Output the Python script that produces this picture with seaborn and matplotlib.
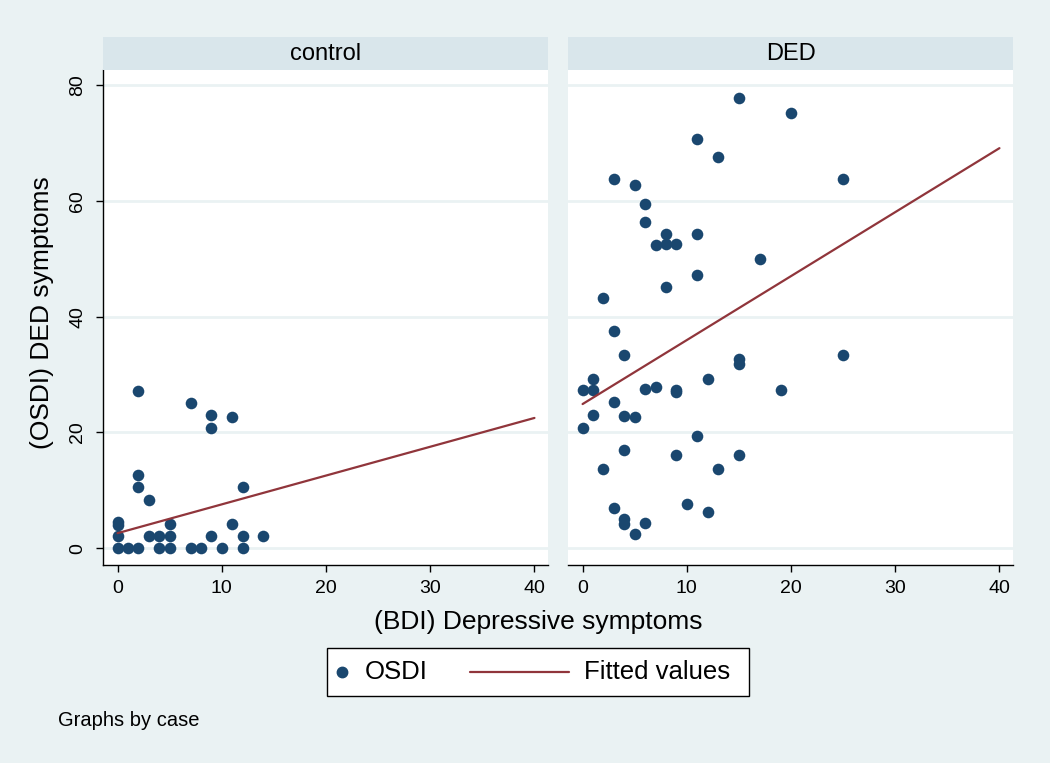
import numpy as np
import pandas as pd
import seaborn as sns
import matplotlib.pyplot as plt
from matplotlib.lines import Line2D
from matplotlib.patches import Rectangle

# values
control_bdi = [2, 7, 9, 9, 11, 2, 2, 3, 12, 0, 0, 5, 11,
               0, 3, 4, 5, 9, 12, 14,
               0, 1, 2, 4, 5, 7, 8, 10, 12]
control_osdi = [27.2, 25.1, 23.0, 20.8, 22.6, 12.6, 10.5, 8.4, 10.5, 4.6, 4.0, 4.2, 4.2,
                2.1, 2.1, 2.1, 2.1, 2.1, 2.1, 2.1,
                0, 0, 0, 0, 0, 0, 0, 0, 0]

ded_bdi = [15, 20, 11, 13, 3, 25, 5, 6, 6, 8, 11, 7, 8, 9, 17, 11, 8, 2, 3, 4,
           25, 15, 15, 1, 12, 0, 1, 6, 7, 9, 9, 19, 3, 1, 4, 5, 0, 11, 4, 9,
           15, 2, 13, 10, 3, 12, 4, 4, 6, 5]
ded_osdi = [77.8, 75.2, 70.6, 67.6, 63.8, 63.8, 62.7, 59.4, 56.4, 54.3, 54.3, 52.4, 52.6, 52.6,
            50.0, 47.2, 45.2, 43.3, 37.6, 33.4, 33.3, 32.6, 31.8, 29.3, 29.3, 27.3, 27.4, 27.5,
            27.9, 27.4, 27.0, 27.4, 25.2, 23.0, 22.8, 22.6, 20.8, 19.4, 16.9, 16.1, 16.1, 13.6,
            13.6, 7.6, 7.0, 6.3, 5.0, 4.2, 4.3, 2.5]

fit_bdi = [0, 40]
fit_control = [2.6, 22.5]
fit_ded = [24.9, 69.1]

panels = ['control', 'DED']
x_ticks = [0, 10, 20, 30, 40]
y_ticks = [0, 20, 40, 60, 80]

df = pd.concat([
    pd.DataFrame({'case': 'control', 'bdi': control_bdi, 'osdi': control_osdi}),
    pd.DataFrame({'case': 'DED', 'bdi': ded_bdi, 'osdi': ded_osdi}),
])
fits = pd.concat([
    pd.DataFrame({'case': 'control', 'bdi': fit_bdi, 'fit': fit_control}),
    pd.DataFrame({'case': 'DED', 'bdi': fit_bdi, 'fit': fit_ded}),
])

bg = '#eaf2f3'
strip_col = '#d9e6eb'
navy = '#1a476f'
maroon = '#90353b'

sns.set_style('white')
plt.rcParams['font.family'] = ['Liberation Sans', 'DejaVu Sans']
plt.rcParams['text.color'] = 'black'
plt.rcParams['xtick.color'] = 'black'
plt.rcParams['ytick.color'] = 'black'

W, H = 1050, 763
fig = plt.figure(figsize=(W / 100, H / 100), dpi=100, facecolor=bg)

def px(left, top, right, bottom):
    return [left / W, 1 - bottom / H, (right - left) / W, (bottom - top) / H]

def fx(x):
    return x / W

def fy(y):
    return 1 - y / H

lefts = [103, 568]
for i, case in enumerate(panels):
    l = lefts[i]
    ax = fig.add_axes(px(l, 70, l + 445, 565))
    ax.set_facecolor('white')
    sub = df[df['case'] == case]
    sns.scatterplot(data=sub, x='bdi', y='osdi', ax=ax, color=navy, s=70,
                    edgecolor=navy, linewidth=0, zorder=3)
    sns.lineplot(data=fits[fits['case'] == case], x='bdi', y='fit', ax=ax,
                 color=maroon, linewidth=1.6, zorder=4)
    ax.set_xlim(-1.4, 41.3)
    ax.set_ylim(-2.9, 82.6)
    ax.set_xticks(x_ticks)
    ax.set_yticks(y_ticks)
    ax.grid(axis='y', color=bg, linewidth=2)
    ax.set_axisbelow(True)
    for s in ['top', 'right', 'left']:
        ax.spines[s].set_visible(False)
    ax.spines['bottom'].set_color('black')
    ax.spines['bottom'].set_linewidth(1)
    ax.tick_params(axis='x', direction='out', length=5, width=1, color='black',
                   labelsize=14, bottom=True, pad=6, labelcolor='black')
    if i == 0:
        ax.spines['left'].set_visible(True)
        ax.spines['left'].set_color('black')
        ax.spines['left'].set_linewidth(1)
        ax.tick_params(axis='y', direction='out', length=5, width=1, color='black',
                       labelsize=14, left=True, pad=7, labelcolor='black')
        for t in ax.get_yticklabels():
            t.set_rotation(90)
            t.set_va('center')
    else:
        ax.tick_params(axis='y', left=False, labelleft=False)
    ax.set_xlabel('')
    ax.set_ylabel('')

    # strip with the panel name
    sax = fig.add_axes(px(l, 37, l + 445, 70))
    sax.set_facecolor(strip_col)
    sax.set_xticks([])
    sax.set_yticks([])
    for s in sax.spines.values():
        s.set_visible(False)
    sax.text(0.5, 0.5, case, ha='center', va='center', fontsize=17,
             transform=sax.transAxes)

fig.text(fx(42), fy(313), '(OSDI) DED symptoms', rotation=90,
         ha='center', va='center', fontsize=19)
fig.text(fx(538), fy(622), '(BDI) Depressive symptoms',
         ha='center', va='center', fontsize=19)

# legend box drawn by hand to keep Stata's spacing
fig.add_artist(Rectangle((fx(327), fy(696)), fx(749) - fx(327), fy(648) - fy(696),
                         transform=fig.transFigure, facecolor='white',
                         edgecolor='black', linewidth=1))
fig.add_artist(Line2D([fx(342)], [fy(672)], marker='o', color=navy,
                      markersize=7.5, linestyle='', transform=fig.transFigure))
fig.text(fx(365), fy(672), 'OSDI', ha='left', va='center', fontsize=18.5)
fig.add_artist(Line2D([fx(470), fx(569)], [fy(672), fy(672)], color=maroon,
                      linewidth=1.6, transform=fig.transFigure))
fig.text(fx(584), fy(672), 'Fitted values', ha='left', va='center', fontsize=18.5)

fig.text(fx(58), fy(720), 'Graphs by case', ha='left', va='center', fontsize=14.5)

plt.savefig('out.png', dpi=100, facecolor=bg)
